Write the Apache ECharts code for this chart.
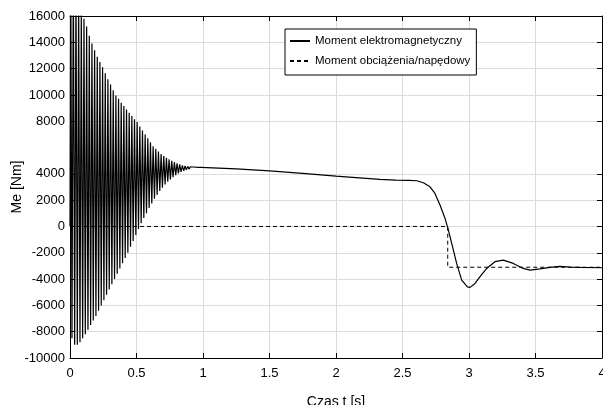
<!DOCTYPE html>
<html>
<head>
<meta charset="utf-8">
<script src="https://cdn.jsdelivr.net/npm/echarts@6/dist/echarts.min.js"></script>
<style>
  html, body { margin: 0; padding: 0; background: #fff; }
  #chart { width: 603px; height: 405px; }
</style>
</head>
<body>
<div id="chart"></div>
<script>
/* y ticks as printed on the figure (6000 is not labelled) */
var yTicks = [16000, 14000, 12000, 10000, 8000, 4000, 2000, 0, -2000, -4000, -6000, -8000, -10000];

/* 50 Hz start-up oscillation: one peak and one trough per period */
var oscStart = 0.005;
var oscPeriod = 0.02;
var oscPeaks = [22000, 20000, 18500, 17300, 16500, 15800, 15200, 14500, 13900, 13400,
		12900, 12500, 12100, 11650, 11200, 10800, 10350, 9950, 9700, 9400,
		9150, 8900, 8650, 8400, 8150, 7950, 7600, 7300, 7000, 6700,
		6400, 6100, 5900, 5700, 5500, 5350, 5220, 5100, 5000, 4900,
		4800, 4720, 4650, 4600, 4570, 4540, 4520, 4505, 4495, 4490];
var oscTroughs = [-8500, -9000, -9000, -8800, -8500, -8200, -7850, -7500, -7150, -6800,
		  -6400, -6000, -5600, -5200, -4800, -4400, -4000, -3600, -3200, -2800,
		  -2400, -2000, -1550, -1100, -650, -200, 250, 650, 1000, 1400,
		  1750, 2100, 2400, 2700, 2950, 3200, 3400, 3580, 3750, 3900,
		  4030, 4140, 4230, 4300, 4360, 4410, 4440, 4460, 4475, 4480];

/* after the oscillation dies out */
var tailTime = [1.0, 1.25, 1.5, 1.75, 2.0, 2.2, 2.33, 2.45, 2.55, 2.607, 2.657, 2.707,
		2.744, 2.782, 2.82, 2.845, 2.87, 2.907, 2.945, 2.988, 3.008, 3.045,
		3.083, 3.133, 3.195, 3.258, 3.333, 3.408, 3.459, 3.534, 3.609, 3.684,
		3.759, 3.835, 4.0];
var tailMe = [4500, 4380, 4230, 4030, 3820, 3670, 3580, 3530, 3500, 3475, 3320, 3015,
	      2510, 1630, 610, -275, -1290, -2810, -4080, -4590, -4630, -4330,
	      -3820, -3190, -2680, -2560, -2810, -3190, -3320, -3220, -3110, -3040,
	      -3090, -3110, -3140];

/* load / drive torque */
var loadTime = [0, 2.84, 2.84, 4];
var loadMe = [0, 0, -3100, -3100];

var FONT = 'Liberation Sans, Arial, sans-serif';

function me_points()
{
    var pts = [[0, 0]];
    for (var k = 0; k < oscPeaks.length; k++) {
	var t = oscStart + k*oscPeriod;
	pts.push([t, oscPeaks[k]]);
	pts.push([t + oscPeriod/2, oscTroughs[k]]);
    }
    for (var i = 0; i < tailTime.length; i++) {
	pts.push([tailTime[i], tailMe[i]]);
    }
    return pts;
}

function zip(a, b)
{
    return a.map((v, i) => [v, b[i]]);
}

var chart = echarts.init(document.getElementById('chart'), null, {renderer: 'canvas'});

var tickStyle = {show: true, inside: true, length: 5, lineStyle: {color: '#000', width: 1}};
var lineStyle = {show: true, onZero: false, lineStyle: {color: '#000', width: 1}};
var gridStyle = {show: true, lineStyle: {color: '#dcdcdc', width: 1}};

chart.setOption({
    animation: false,
    textStyle: {fontFamily: FONT},
    grid: {left: 70, right: 1, top: 16, bottom: 47, containLabel: false, outerBoundsMode: 'none'},
    legend: {
	orient: 'vertical',
	left: 285,
	top: 29,
	padding: [6, 6, 8, 4],
	itemGap: 8,
	itemWidth: 20,
	itemHeight: 10,
	borderColor: '#000',
	borderWidth: 1,
	backgroundColor: '#fff',
	itemStyle: {opacity: 0},
	textStyle: {fontFamily: FONT, fontSize: 11.5, color: '#000'},
	data: ['Moment elektromagnetyczny', 'Moment obciążenia/napędowy']
    },
    xAxis: [{
	type: 'value',
	position: 'bottom',
	min: 0, max: 4, interval: 0.5,
	name: 'Czas t [s]',
	nameLocation: 'middle',
	nameGap: 37,
	nameMoveOverlap: false,
	nameTextStyle: {fontFamily: FONT, fontSize: 14, color: '#000'},
	axisLine: lineStyle,
	axisTick: tickStyle,
	axisLabel: {fontFamily: FONT, fontSize: 13, color: '#000', margin: 9},
	splitLine: gridStyle
    }, {
	type: 'value',
	position: 'top',
	min: 0, max: 4, interval: 0.5,
	axisLine: lineStyle,
	axisTick: tickStyle,
	axisLabel: {show: false},
	splitLine: {show: false}
    }],
    yAxis: [{
	type: 'value',
	position: 'left',
	min: -10000, max: 16000, interval: 2000,
	name: 'Me [Nm]',
	nameLocation: 'middle',
	nameGap: 46,
	nameMoveOverlap: false,
	nameTextStyle: {fontFamily: FONT, fontSize: 14, color: '#000'},
	axisLine: lineStyle,
	axisTick: Object.assign({customValues: yTicks}, tickStyle),
	axisLabel: {
	    fontFamily: FONT, fontSize: 13, color: '#000', margin: 5,
	    customValues: yTicks,
	    formatter: (v) => String(v)
	},
	splitLine: gridStyle
    }, {
	type: 'value',
	position: 'right',
	min: -10000, max: 16000, interval: 2000,
	axisLine: lineStyle,
	axisTick: Object.assign({customValues: yTicks}, tickStyle),
	axisLabel: {show: false},
	splitLine: {show: false}
    }],
    series: [{
	name: 'Moment obciążenia/napędowy',
	type: 'line',
	data: zip(loadTime, loadMe),
	symbol: 'none',
	z: 3,
	lineStyle: {color: '#000', width: 1, type: [4, 3]},
	itemStyle: {color: '#000'}
    }, {
	name: 'Moment elektromagnetyczny',
	type: 'line',
	data: me_points(),
	symbol: 'none',
	z: 4,
	lineStyle: {color: '#000', width: 1.2},
	itemStyle: {color: '#000'}
    }]
});
</script>
</body>
</html>
